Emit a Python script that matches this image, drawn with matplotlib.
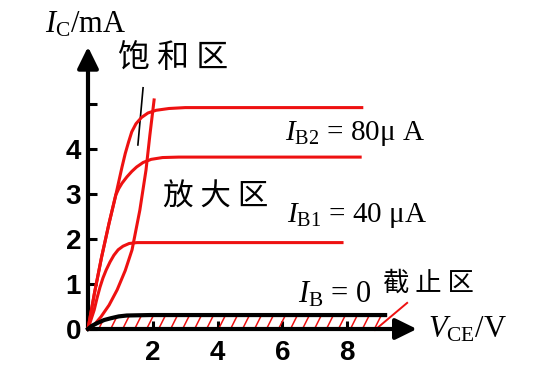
import matplotlib as mpl
mpl.use('Agg')
import matplotlib.pyplot as plt
import numpy as np

plt.rcParams['mathtext.fontset'] = 'custom'
plt.rcParams['mathtext.rm'] = 'Liberation Serif'
plt.rcParams['mathtext.it'] = 'Liberation Serif:italic'

RED = '#ee1111'

# 输出特性曲线 (V_CE / V, I_C / mA)
v_top = [0, 0.2, 0.42, 0.65, 0.88, 1.05, 1.15, 1.25, 1.35, 1.48, 1.65, 1.85, 2.1, 2.5, 3.0, 8.45]
i_top = [0, 0.8, 1.6, 2.35, 3.05, 3.6, 3.9, 4.15, 4.38, 4.56, 4.7, 4.8, 4.86, 4.9, 4.92, 4.92]

v_ib2 = [0, 0.2, 0.42, 0.65, 0.86, 0.95, 1.05, 1.2, 1.35, 1.5, 1.7, 1.95, 2.3, 2.8, 8.4]
i_ib2 = [0, 0.8, 1.6, 2.35, 2.98, 3.12, 3.24, 3.38, 3.5, 3.6, 3.7, 3.77, 3.81, 3.82, 3.82]

v_ib1 = [0, 0.09, 0.19, 0.28, 0.37, 0.46, 0.56, 0.68, 0.8, 0.93, 1.08, 1.27, 1.51, 7.84]
i_ib1 = [0, 0.2, 0.42, 0.69, 0.93, 1.13, 1.31, 1.49, 1.64, 1.76, 1.84, 1.9, 1.92, 1.92]

v_ib0 = [0, 0.12, 0.28, 0.5, 0.71, 0.95, 1.2, 1.91, 9.17]
i_ib0 = [0, 0.07, 0.13, 0.2, 0.24, 0.28, 0.3, 0.31, 0.31]

# 饱和区边界
v_sat = [0, 0.2, 0.4, 0.65, 0.9, 1.15, 1.36, 1.6, 1.79, 1.91, 2.04]
i_sat = [0, 0.1, 0.27, 0.53, 0.87, 1.3, 1.76, 2.64, 3.53, 4.31, 5.09]

x_ticks = [2, 4, 6, 8]
x_labels = ['2', '4', '6', '8']
y_ticks = [0, 1, 2, 3, 4, 5]
y_labels = ['0', '1', '2', '3', '4', '']

fig = plt.figure(figsize=(5.55, 3.83), dpi=100)
ax = fig.add_axes([0, 0, 1, 1])
ax.set_xlim(-2.716, 14.414)
ax.set_ylim(-1.2, 7.311)

for s in ['top', 'right', 'left', 'bottom']:
    ax.spines[s].set_visible(False)
ax.spines['left'].set_position(('data', 0))
ax.spines['bottom'].set_position(('data', 0))

ax.set_xticks(x_ticks, x_labels, fontsize=20, fontweight='bold', family='Liberation Sans')
ax.set_yticks(y_ticks, y_labels, fontsize=20, fontweight='bold', family='Liberation Sans')
ax.tick_params(axis='x', direction='in', length=6, width=2.2, pad=8)
ax.tick_params(axis='y', direction='in', length=6.5, width=2.2, pad=5)

# 坐标轴箭头
ax.annotate('', xy=(10.15, 0), xytext=(0, 0),
            arrowprops=dict(arrowstyle='-|>,head_length=0.65,head_width=0.32', lw=3, color='k',
                            shrinkA=0, shrinkB=0, mutation_scale=20))
ax.annotate('', xy=(0, 6.27), xytext=(0, 0),
            arrowprops=dict(arrowstyle='-|>,head_length=0.65,head_width=0.32', lw=3, color='k',
                            shrinkA=0, shrinkB=0, mutation_scale=20))

# 截止区阴影线
hx = np.arange(0.33, 9.0, 0.37)
htop = np.interp(hx, v_ib0, i_ib0)
for x0, t in zip(hx, htop):
    ax.plot([x0, x0 + t * 45 * 0.5 / 32.4], [0, t], color=RED, lw=1.1, zorder=2)

ax.plot(v_top, i_top, color=RED, lw=2.2, zorder=3)
ax.plot(v_ib2, i_ib2, color=RED, lw=2.2, zorder=3)
ax.plot(v_ib1, i_ib1, color=RED, lw=2.2, zorder=3)
ax.plot(v_sat, i_sat, color=RED, lw=2.2, zorder=3)
ax.plot(v_ib0, i_ib0, color='k', lw=3, zorder=4)

# 指示线
ax.plot([1.70, 1.54], [5.36, 4.09], color='k', lw=1.2)
ax.plot([9.85, 8.86], [0.58, -0.02], color=RED, lw=1.4)

cjk = ['Noto Sans CJK SC', 'DejaVu Sans']
ax.text(0.93, 6.02, '饱 和 区', fontsize=23, family=cjk, fontweight='light', va='center', ha='left')
ax.text(2.31, 2.93, '放 大 区', fontsize=22, family=cjk, fontweight='light', va='center', ha='left')
ax.text(9.10, 1.02, '截 止 区', fontsize=19, family=cjk, fontweight='light', va='center', ha='left')

serif = 'Liberation Serif'
ax.text(-1.33, 6.58, r'$I_{\rm C}$/mA', fontsize=22, family=serif, ha='left', va='baseline')
ax.text(6.08, 4.2, r'$I_{\rm B2}$ = 80μ A', fontsize=21, family=serif, ha='left', va='baseline')
ax.text(6.14, 2.38, r'$I_{\rm B1}$ = 40 μA', fontsize=21, family=serif, ha='left', va='baseline')
ax.text(6.48, 0.58, r'$I_{\rm B}$ = 0', fontsize=22, family=serif, ha='left', va='baseline')
ax.text(10.49, -0.18, r'$V_{\rm CE}$/V', fontsize=22, family=serif, ha='left', va='baseline')

plt.savefig('out.png', dpi=100)
